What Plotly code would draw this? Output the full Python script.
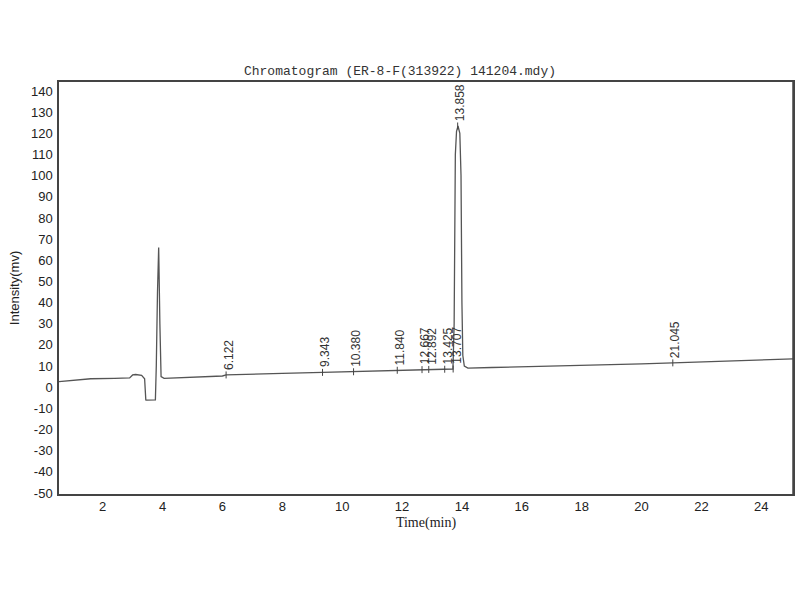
import plotly.graph_objects as go

# Trace
time_min = [0.54, 1.0, 1.6, 2.4, 2.9, 3.0, 3.1, 3.3, 3.40, 3.44, 3.47, 3.76, 3.79, 3.83, 3.87, 3.91,
            3.95, 4.05, 4.3, 5.0, 6.0, 6.122, 7.0, 8.0, 9.343, 10.38, 11.0, 11.84, 12.5, 13.0,
            13.5, 13.70, 13.74, 13.78, 13.82, 13.87, 13.93, 13.97, 14.00, 14.03, 14.08, 14.2,
            15.0, 16.0, 18.0, 20.0, 21.045, 22.0, 23.0, 24.0, 25.06]
intensity_mv = [2.6, 3.3, 4.0, 4.2, 4.4, 5.8, 6.0, 5.6, 4.0, -6.0, -6.1, -6.0, 10.0, 45.0, 66.0, 30.0,
                5.0, 4.2, 4.3, 4.7, 5.3, 5.8, 6.0, 6.5, 7.0, 7.3, 7.6, 8.0, 8.2, 8.4,
                8.5, 8.6, 30.0, 110.0, 121.0, 123.5, 120.0, 100.0, 40.0, 15.0, 10.0, 9.0,
                9.3, 9.6, 10.3, 11.0, 11.5, 12.0, 12.6, 13.0, 13.4]

# Peak labels (retention times) and label base heights
peak_times = [6.122, 9.343, 10.380, 11.840, 12.667, 12.892, 13.425, 13.707, 13.858, 21.045]
peak_labels = ["6.122", "9.343", "10.380", "11.840", "12.667", "12.892", "13.425", "13.707", "13.858", "21.045"]
peak_heights = [5.8, 7.0, 7.3, 8.0, 8.3, 8.4, 8.5, 8.6, 123.5, 11.5]

x_ticks = [2, 4, 6, 8, 10, 12, 14, 16, 18, 20, 22, 24]
y_ticks = [-50, -40, -30, -20, -10, 0, 10, 20, 30, 40, 50, 60, 70, 80, 90, 100, 110, 120, 130, 140]

fig = go.Figure()
fig.add_trace(go.Scatter(x=time_min, y=intensity_mv, mode="lines",
                         line=dict(color="#555555", width=1.3), showlegend=False, hoverinfo="skip"))
fig.add_trace(go.Scatter(x=peak_times, y=peak_heights, mode="markers",
                         marker=dict(symbol="line-ns", size=5, line=dict(color="#444444", width=1)),
                         showlegend=False, hoverinfo="skip"))

for t, lab, h in zip(peak_times, peak_labels, peak_heights):
    fig.add_annotation(x=t, y=h, text=lab, showarrow=False, textangle=-90,
                       xanchor="center", yanchor="bottom", yshift=3, xshift=3,
                       font=dict(family="Liberation Sans, Arial", size=12, color="#333333"))

fig.update_layout(
    width=800, height=600,
    margin=dict(l=59, r=5, t=82, b=106),
    paper_bgcolor="white", plot_bgcolor="white",
    title=dict(text="Chromatogram (ER-8-F(313922) 141204.mdy)", x=0.5, xanchor="center",
               y=1 - 70 / 600, yanchor="middle", yref="container",
               font=dict(family="Liberation Mono, DejaVu Sans Mono", size=13, color="#333333")),
)
fig.update_xaxes(range=[0.54, 25.06], tickvals=x_ticks, ticktext=[str(v) for v in x_ticks],
                 showgrid=False, zeroline=False, showline=True, mirror=True,
                 linecolor="#444444", linewidth=1.5, ticks="",
                 tickfont=dict(family="Liberation Sans, Arial", size=13, color="#222222"),
                 title=dict(text="Time(min)", standoff=4,
                            font=dict(family="Liberation Serif, Times New Roman", size=14, color="#222222")))
fig.update_yaxes(range=[-50.5, 144.3], tickvals=y_ticks, ticktext=[str(v) for v in y_ticks],
                 showgrid=False, zeroline=False, showline=True, mirror=True,
                 linecolor="#444444", linewidth=1.5, ticks="", ticklabelstandoff=2,
                 tickfont=dict(family="Liberation Sans, Arial", size=13, color="#222222"),
                 title=dict(text="Intensity(mv)", standoff=8,
                            font=dict(family="Liberation Sans, Arial", size=13, color="#222222")))
# right border of the frame drawn explicitly so it is always visible
fig.add_shape(type="line", xref="paper", yref="paper", x0=1, x1=1, y0=0, y1=1,
              line=dict(color="#444444", width=1.5))

fig.write_html("out.html", config={"displayModeBar": False},
               post_script="document.body.style.margin='0';document.body.style.overflow='hidden';")
